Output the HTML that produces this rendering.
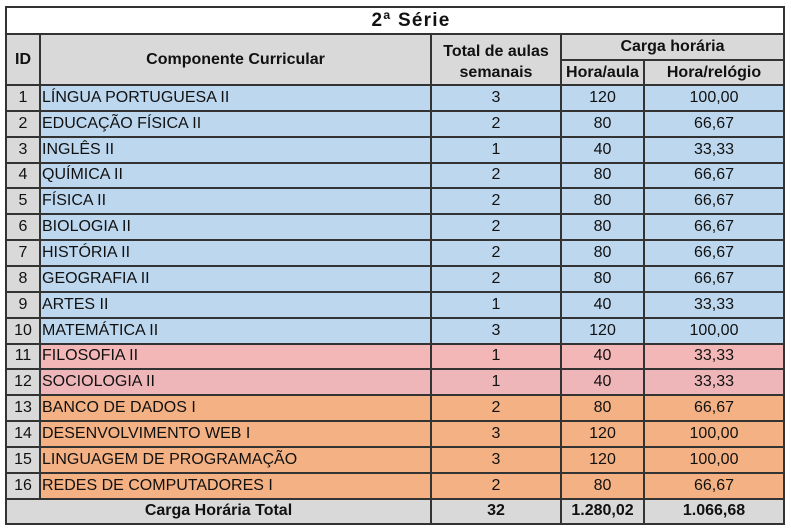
<!DOCTYPE html>
<html>
<head>
<meta charset="utf-8">
<style>
html,body{margin:0;padding:0;background:#fff;}
body{width:791px;height:532px;position:relative;overflow:hidden;font-family:"Liberation Sans",Arial,sans-serif;color:#111;}
.bg{position:absolute;}
.t{position:absolute;display:flex;align-items:center;justify-content:center;font-size:16px;white-space:nowrap;}
.l{justify-content:flex-start;padding-left:2px;box-sizing:border-box;}
.b{font-weight:bold;}
.h{position:absolute;height:2px;background:#333;}
.v{position:absolute;width:2px;background:#333;}
</style>
</head>
<body>
<!-- backgrounds -->
<div class="bg" style="left:6px;top:7px;width:778px;height:27px;background:#fff"></div>
<div class="bg" style="left:6px;top:34px;width:778px;height:51px;background:#d9d9d9"></div>
<div class="bg" style="left:6px;top:85px;width:34px;height:414px;background:#d9d9d9"></div>
<div class="bg" style="left:40px;top:85px;width:744px;height:258.5px;background:#bdd7ee"></div>
<div class="bg" style="left:40px;top:343.5px;width:744px;height:25.85px;background:#f4b7b7"></div>
<div class="bg" style="left:40px;top:369.35px;width:744px;height:25.85px;background:#efb6b9"></div>
<div class="bg" style="left:40px;top:395.2px;width:744px;height:103.4px;background:#f4b183"></div>
<div class="bg" style="left:6px;top:498.6px;width:778px;height:25.4px;background:#d9d9d9"></div>

<!-- title -->
<div class="t b" style="left:22px;top:7px;width:778px;height:27px;font-size:19px;letter-spacing:1.2px;">2ª Série</div>

<!-- header -->
<div class="t b" style="left:6px;top:34px;width:34px;height:51px;">ID</div>
<div class="t b" style="left:40px;top:34px;width:391px;height:51px;">Componente Curricular</div>
<div class="t b" style="left:431px;top:36px;width:130px;height:51px;text-align:center;line-height:21px;">Total de aulas<br>semanais</div>
<div class="t b" style="left:561px;top:34px;width:223px;height:26px;">Carga horária</div>
<div class="t b" style="left:561px;top:60px;width:83px;height:25px;">Hora/aula</div>
<div class="t b" style="left:644px;top:60px;width:140px;height:25px;">Hora/relógio</div>

<!-- rows -->
<div style="position:absolute;left:0;top:85px;width:791px;height:25.85px;">
<div class="t" style="left:6px;top:0;width:34px;height:100%">1</div><div class="t l" style="left:40px;top:0;width:391px;height:100%">LÍNGUA PORTUGUESA II</div><div class="t" style="left:431px;top:0;width:130px;height:100%">3</div><div class="t" style="left:561px;top:0;width:83px;height:100%">120</div><div class="t" style="left:644px;top:0;width:140px;height:100%">100,00</div></div>
<div style="position:absolute;left:0;top:110.85px;width:791px;height:25.85px;">
<div class="t" style="left:6px;top:0;width:34px;height:100%">2</div><div class="t l" style="left:40px;top:0;width:391px;height:100%">EDUCAÇÃO FÍSICA II</div><div class="t" style="left:431px;top:0;width:130px;height:100%">2</div><div class="t" style="left:561px;top:0;width:83px;height:100%">80</div><div class="t" style="left:644px;top:0;width:140px;height:100%">66,67</div></div>
<div style="position:absolute;left:0;top:136.7px;width:791px;height:25.85px;">
<div class="t" style="left:6px;top:0;width:34px;height:100%">3</div><div class="t l" style="left:40px;top:0;width:391px;height:100%">INGLÊS II</div><div class="t" style="left:431px;top:0;width:130px;height:100%">1</div><div class="t" style="left:561px;top:0;width:83px;height:100%">40</div><div class="t" style="left:644px;top:0;width:140px;height:100%">33,33</div></div>
<div style="position:absolute;left:0;top:162.55px;width:791px;height:25.85px;">
<div class="t" style="left:6px;top:0;width:34px;height:100%">4</div><div class="t l" style="left:40px;top:0;width:391px;height:100%">QUÍMICA II</div><div class="t" style="left:431px;top:0;width:130px;height:100%">2</div><div class="t" style="left:561px;top:0;width:83px;height:100%">80</div><div class="t" style="left:644px;top:0;width:140px;height:100%">66,67</div></div>
<div style="position:absolute;left:0;top:188.4px;width:791px;height:25.85px;">
<div class="t" style="left:6px;top:0;width:34px;height:100%">5</div><div class="t l" style="left:40px;top:0;width:391px;height:100%">FÍSICA II</div><div class="t" style="left:431px;top:0;width:130px;height:100%">2</div><div class="t" style="left:561px;top:0;width:83px;height:100%">80</div><div class="t" style="left:644px;top:0;width:140px;height:100%">66,67</div></div>
<div style="position:absolute;left:0;top:214.25px;width:791px;height:25.85px;">
<div class="t" style="left:6px;top:0;width:34px;height:100%">6</div><div class="t l" style="left:40px;top:0;width:391px;height:100%">BIOLOGIA II</div><div class="t" style="left:431px;top:0;width:130px;height:100%">2</div><div class="t" style="left:561px;top:0;width:83px;height:100%">80</div><div class="t" style="left:644px;top:0;width:140px;height:100%">66,67</div></div>
<div style="position:absolute;left:0;top:240.1px;width:791px;height:25.85px;">
<div class="t" style="left:6px;top:0;width:34px;height:100%">7</div><div class="t l" style="left:40px;top:0;width:391px;height:100%">HISTÓRIA II</div><div class="t" style="left:431px;top:0;width:130px;height:100%">2</div><div class="t" style="left:561px;top:0;width:83px;height:100%">80</div><div class="t" style="left:644px;top:0;width:140px;height:100%">66,67</div></div>
<div style="position:absolute;left:0;top:265.95px;width:791px;height:25.85px;">
<div class="t" style="left:6px;top:0;width:34px;height:100%">8</div><div class="t l" style="left:40px;top:0;width:391px;height:100%">GEOGRAFIA II</div><div class="t" style="left:431px;top:0;width:130px;height:100%">2</div><div class="t" style="left:561px;top:0;width:83px;height:100%">80</div><div class="t" style="left:644px;top:0;width:140px;height:100%">66,67</div></div>
<div style="position:absolute;left:0;top:291.8px;width:791px;height:25.85px;">
<div class="t" style="left:6px;top:0;width:34px;height:100%">9</div><div class="t l" style="left:40px;top:0;width:391px;height:100%">ARTES II</div><div class="t" style="left:431px;top:0;width:130px;height:100%">1</div><div class="t" style="left:561px;top:0;width:83px;height:100%">40</div><div class="t" style="left:644px;top:0;width:140px;height:100%">33,33</div></div>
<div style="position:absolute;left:0;top:317.65px;width:791px;height:25.85px;">
<div class="t" style="left:6px;top:0;width:34px;height:100%">10</div><div class="t l" style="left:40px;top:0;width:391px;height:100%">MATEMÁTICA II</div><div class="t" style="left:431px;top:0;width:130px;height:100%">3</div><div class="t" style="left:561px;top:0;width:83px;height:100%">120</div><div class="t" style="left:644px;top:0;width:140px;height:100%">100,00</div></div>
<div style="position:absolute;left:0;top:343.5px;width:791px;height:25.85px;">
<div class="t" style="left:6px;top:0;width:34px;height:100%">11</div><div class="t l" style="left:40px;top:0;width:391px;height:100%">FILOSOFIA II</div><div class="t" style="left:431px;top:0;width:130px;height:100%">1</div><div class="t" style="left:561px;top:0;width:83px;height:100%">40</div><div class="t" style="left:644px;top:0;width:140px;height:100%">33,33</div></div>
<div style="position:absolute;left:0;top:369.35px;width:791px;height:25.85px;">
<div class="t" style="left:6px;top:0;width:34px;height:100%">12</div><div class="t l" style="left:40px;top:0;width:391px;height:100%">SOCIOLOGIA II</div><div class="t" style="left:431px;top:0;width:130px;height:100%">1</div><div class="t" style="left:561px;top:0;width:83px;height:100%">40</div><div class="t" style="left:644px;top:0;width:140px;height:100%">33,33</div></div>
<div style="position:absolute;left:0;top:395.2px;width:791px;height:25.85px;">
<div class="t" style="left:6px;top:0;width:34px;height:100%">13</div><div class="t l" style="left:40px;top:0;width:391px;height:100%">BANCO DE DADOS I</div><div class="t" style="left:431px;top:0;width:130px;height:100%">2</div><div class="t" style="left:561px;top:0;width:83px;height:100%">80</div><div class="t" style="left:644px;top:0;width:140px;height:100%">66,67</div></div>
<div style="position:absolute;left:0;top:421.05px;width:791px;height:25.85px;">
<div class="t" style="left:6px;top:0;width:34px;height:100%">14</div><div class="t l" style="left:40px;top:0;width:391px;height:100%">DESENVOLVIMENTO WEB I</div><div class="t" style="left:431px;top:0;width:130px;height:100%">3</div><div class="t" style="left:561px;top:0;width:83px;height:100%">120</div><div class="t" style="left:644px;top:0;width:140px;height:100%">100,00</div></div>
<div style="position:absolute;left:0;top:446.9px;width:791px;height:25.85px;">
<div class="t" style="left:6px;top:0;width:34px;height:100%">15</div><div class="t l" style="left:40px;top:0;width:391px;height:100%">LINGUAGEM DE PROGRAMAÇÃO</div><div class="t" style="left:431px;top:0;width:130px;height:100%">3</div><div class="t" style="left:561px;top:0;width:83px;height:100%">120</div><div class="t" style="left:644px;top:0;width:140px;height:100%">100,00</div></div>
<div style="position:absolute;left:0;top:472.75px;width:791px;height:25.85px;">
<div class="t" style="left:6px;top:0;width:34px;height:100%">16</div><div class="t l" style="left:40px;top:0;width:391px;height:100%">REDES DE COMPUTADORES I</div><div class="t" style="left:431px;top:0;width:130px;height:100%">2</div><div class="t" style="left:561px;top:0;width:83px;height:100%">80</div><div class="t" style="left:644px;top:0;width:140px;height:100%">66,67</div></div>

<!-- total -->
<div class="t b" style="left:6px;top:498.6px;width:425px;height:25.4px;">Carga Horária Total</div>
<div class="t b" style="left:431px;top:498.6px;width:130px;height:25.4px;">32</div>
<div class="t b" style="left:561px;top:498.6px;width:83px;height:25.4px;">1.280,02</div>
<div class="t b" style="left:644px;top:498.6px;width:140px;height:25.4px;">1.066,68</div>

<!-- horizontal lines -->
<div class="h" style="left:5px;top:6px;width:780px;"></div>
<div class="h" style="left:5px;top:33px;width:780px;"></div>
<div class="h" style="left:560px;top:59px;width:225px;"></div>
<div class="h" style="left:5px;top:84px;width:780px;"></div>
<div class="h" style="left:5px;top:109.85px;width:780px;"></div>
<div class="h" style="left:5px;top:135.7px;width:780px;"></div>
<div class="h" style="left:5px;top:161.55px;width:780px;"></div>
<div class="h" style="left:5px;top:187.4px;width:780px;"></div>
<div class="h" style="left:5px;top:213.25px;width:780px;"></div>
<div class="h" style="left:5px;top:239.1px;width:780px;"></div>
<div class="h" style="left:5px;top:264.95px;width:780px;"></div>
<div class="h" style="left:5px;top:290.8px;width:780px;"></div>
<div class="h" style="left:5px;top:316.65px;width:780px;"></div>
<div class="h" style="left:5px;top:342.5px;width:780px;"></div>
<div class="h" style="left:5px;top:368.35px;width:780px;"></div>
<div class="h" style="left:5px;top:394.2px;width:780px;"></div>
<div class="h" style="left:5px;top:420.05px;width:780px;"></div>
<div class="h" style="left:5px;top:445.9px;width:780px;"></div>
<div class="h" style="left:5px;top:471.75px;width:780px;"></div>
<div class="h" style="left:5px;top:497.6px;width:780px;"></div>
<div class="h" style="left:5px;top:523px;width:780px;"></div>

<!-- vertical lines -->
<div class="v" style="left:5px;top:6px;height:519px;"></div>
<div class="v" style="left:783px;top:6px;height:519px;"></div>
<div class="v" style="left:39px;top:33px;height:466px;"></div>
<div class="v" style="left:430px;top:33px;height:491px;"></div>
<div class="v" style="left:560px;top:33px;height:491px;"></div>
<div class="v" style="left:643px;top:59px;height:465px;"></div>
</body>
</html>
